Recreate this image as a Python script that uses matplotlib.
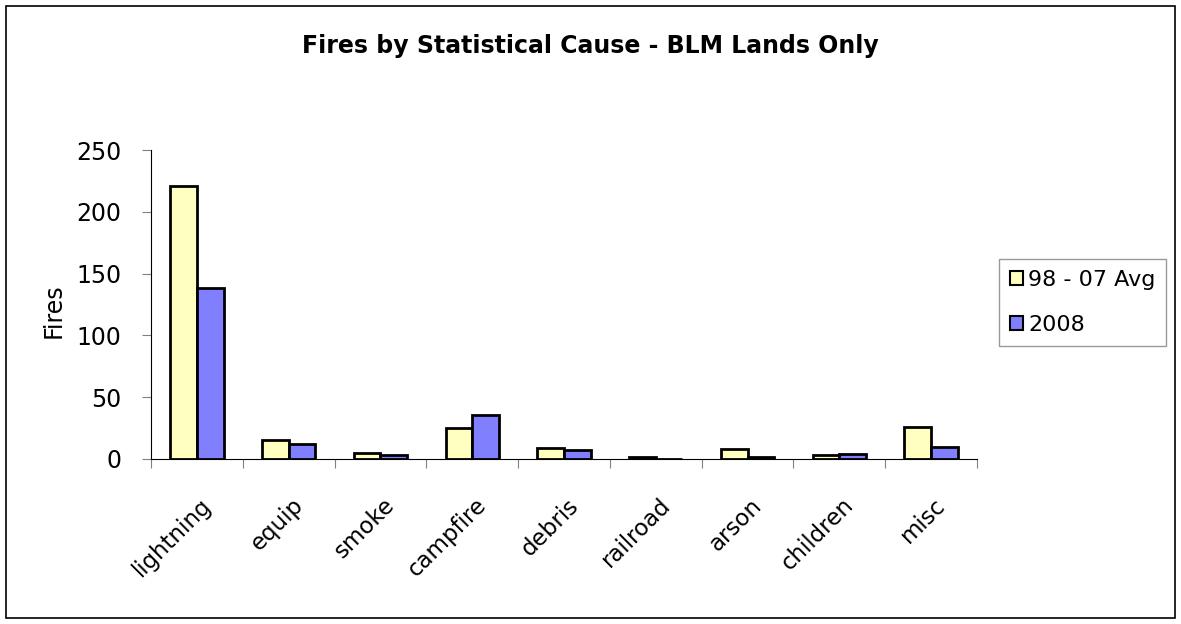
import matplotlib
matplotlib.use("Agg")
import matplotlib.pyplot as plt
import numpy as np
from matplotlib.patches import Rectangle

categories = ["lightning", "equip", "smoke", "campfire", "debris", "railroad", "arson", "children", "misc"]
avg_vals = [221, 15, 5, 25, 9, 1.5, 8, 3, 26]
y2008_vals = [138, 12, 3, 36, 7, 0, 2, 4, 10]
series_names = ["98 - 07 Avg", "2008"]
yticks = [0, 50, 100, 150, 200, 250]

plt.rcParams['font.family'] = ['DejaVu Sans']

W, H = 1181, 624
fig = plt.figure(figsize=(W / 100, H / 100), dpi=100)
fig.patches.append(Rectangle((0.005, 0.009), 0.99, 0.982, transform=fig.transFigure,
                             fill=False, edgecolor='black', linewidth=1.2))

ax = fig.add_axes([151 / W, 1 - 459 / H, (977 - 151) / W, (459 - 150) / H])
n = len(categories)
x = np.arange(n)
w = 0.29
ax.bar(x - w/2, avg_vals, width=w, color='#ffffc0', edgecolor='black', linewidth=2, label=series_names[0])
ax.bar(x + w/2, y2008_vals, width=w, color='#8080ff', edgecolor='black', linewidth=2, label=series_names[1])

ax.set_xlim(-0.5, n - 0.5)
ax.set_ylim(0, 250)
ax.set_yticks(yticks)
ax.set_yticklabels([str(t) for t in yticks], fontsize=17)
ax.set_xticks(np.arange(-0.5, n, 1.0))
ax.set_xticklabels([])
ax.set_xticks(x + 0.03, minor=True)
ax.set_xticklabels(categories, minor=True, rotation=45, ha='right', rotation_mode='anchor', fontsize=16.5)
ax.tick_params(axis='x', which='minor', length=0, pad=25)
ax.tick_params(axis='x', which='major', length=6.5, color='gray', direction='out')
ax.tick_params(axis='y', length=6.5, color='gray', direction='out', pad=15)
for s in ['top', 'right']:
    ax.spines[s].set_visible(False)
ax.spines['left'].set_color('black')
ax.spines['bottom'].set_color('black')
ax.set_ylabel("Fires", fontsize=17)
ax.yaxis.set_label_coords((66 - 151) / (977 - 151), 0.48)

fig.text(0.5, 1 - 46 / H, "Fires by Statistical Cause - BLM Lands Only", ha='center', va='center',
         fontsize=17, fontweight='bold')

leg = fig.legend(loc='upper left', bbox_to_anchor=(999 / W, 1 - 259 / H), fontsize=16, frameon=True,
                 fancybox=False, edgecolor='gray', handlelength=0.6, handleheight=0.6,
                 handletextpad=0.2, labelspacing=1.1, borderpad=0.5, borderaxespad=0)
leg.get_frame().set_linewidth(1.0)
for p in leg.get_patches():
    p.set_linewidth(1.5)

fig.savefig("out.png", dpi=100)
